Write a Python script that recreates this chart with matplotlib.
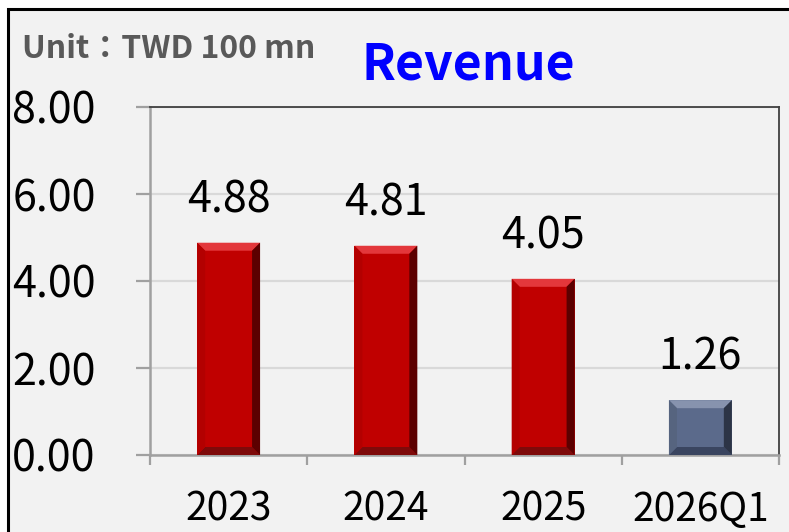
import matplotlib
matplotlib.use('Agg')
import matplotlib.pyplot as plt
from matplotlib.patches import Rectangle, Polygon
import numpy as np

categories = ['2023', '2024', '2025', '2026Q1']
revenue = [4.88, 4.81, 4.05, 1.26]
ytick_values = [0, 2, 4, 6, 8]
ytick_labels = ['0.00', '2.00', '4.00', '6.00', '8.00']
title = 'Revenue'
unit_text = 'Unit：TWD 100 mn'

plt.rcParams['font.family'] = ['Noto Sans CJK TC', 'DejaVu Sans']

W, H = 789, 532
fig = plt.figure(figsize=(W / 100, H / 100), dpi=100, facecolor='white')
fig.patches.append(Rectangle((8 / W, -0.1), 1.2, 1 - 9 / H + 0.1, transform=fig.transFigure,
                             facecolor='#f2f2f2', edgecolor='black', linewidth=2.2, zorder=-10))

ax = fig.add_axes([150 / W, 1 - 455 / H, 629 / W, 348 / H])
ax.set_facecolor('none')

x = np.arange(len(categories))
face_cols = ['#c00000'] * 3 + ['#5b6a8b']
bevel_cols = [
    dict(top='#e3373b', bottom='#7e0a0a', left='#b30000', right='#5c0000')
] * 3 + [dict(top='#8793ae', bottom='#3a4560', left='#56647f', right='#2c3446')]

bars = ax.bar(x, revenue, width=0.4, color=face_cols, edgecolor='none', zorder=3)
ax.set_xlim(-0.5, len(categories) - 0.5)
ax.set_ylim(0, 8)

fig.canvas.draw()
p0 = ax.transData.transform((0, 0))
p1 = ax.transData.transform((1, 1))
bev = 8
dx = bev / (p1[0] - p0[0])
dy = bev / (p1[1] - p0[1])
for bar, bc in zip(bars, bevel_cols):
    x0, y0 = bar.get_x(), bar.get_y()
    x1, y1 = x0 + bar.get_width(), y0 + bar.get_height()
    polys = {
        'top': [(x0, y1), (x1, y1), (x1 - dx, y1 - dy), (x0 + dx, y1 - dy)],
        'bottom': [(x0, y0), (x1, y0), (x1 - dx, y0 + dy), (x0 + dx, y0 + dy)],
        'left': [(x0, y0), (x0 + dx, y0 + dy), (x0 + dx, y1 - dy), (x0, y1)],
        'right': [(x1, y0), (x1 - dx, y0 + dy), (x1 - dx, y1 - dy), (x1, y1)],
    }
    for k, pts in polys.items():
        ax.add_patch(Polygon(pts, closed=True, facecolor=bc[k], edgecolor='none', zorder=4))

# grid and spines
ax.set_yticks(ytick_values, ytick_labels)
ax.yaxis.grid(True, color='#d9d9d9', linewidth=1.6)
ax.set_axisbelow(True)
for s in ['top', 'right']:
    ax.spines[s].set_color('#404040')
    ax.spines[s].set_linewidth(1.3)
for s in ['left', 'bottom']:
    ax.spines[s].set_color('#a0a0a0')
    ax.spines[s].set_linewidth(1.8)

ax.tick_params(axis='y', direction='out', length=10, width=1.6, color='#a0a0a0',
               pad=29, labelsize=31, labelcolor='black')

bounds = np.arange(len(categories) + 1) - 0.5
ax.set_xticks(bounds)
ax.set_xticklabels([])
ax.set_xticks(x, minor=True)
ax.set_xticklabels(categories, minor=True)
ax.tick_params(axis='x', which='major', direction='out', length=7, width=1.6, color='#a0a0a0')
ax.tick_params(axis='x', which='minor', length=0, pad=25, labelsize=28, labelcolor='black')

for xi, v in zip(x, revenue):
    ax.annotate(f'{v:.2f}', (xi, v), xytext=(0, 22), textcoords='offset points',
                ha='center', va='baseline', fontsize=31, color='black', zorder=5)

fig.text(22 / W, 1 - 58 / H, unit_text, ha='left', va='baseline', fontsize=23,
         fontweight='bold', color='#595959')
fig.text(361 / W, 1 - 80 / H, title, ha='left', va='baseline', fontsize=36,
         fontweight='bold', color='#0000ff')

fig.savefig('out.png', dpi=100, facecolor=fig.get_facecolor())
